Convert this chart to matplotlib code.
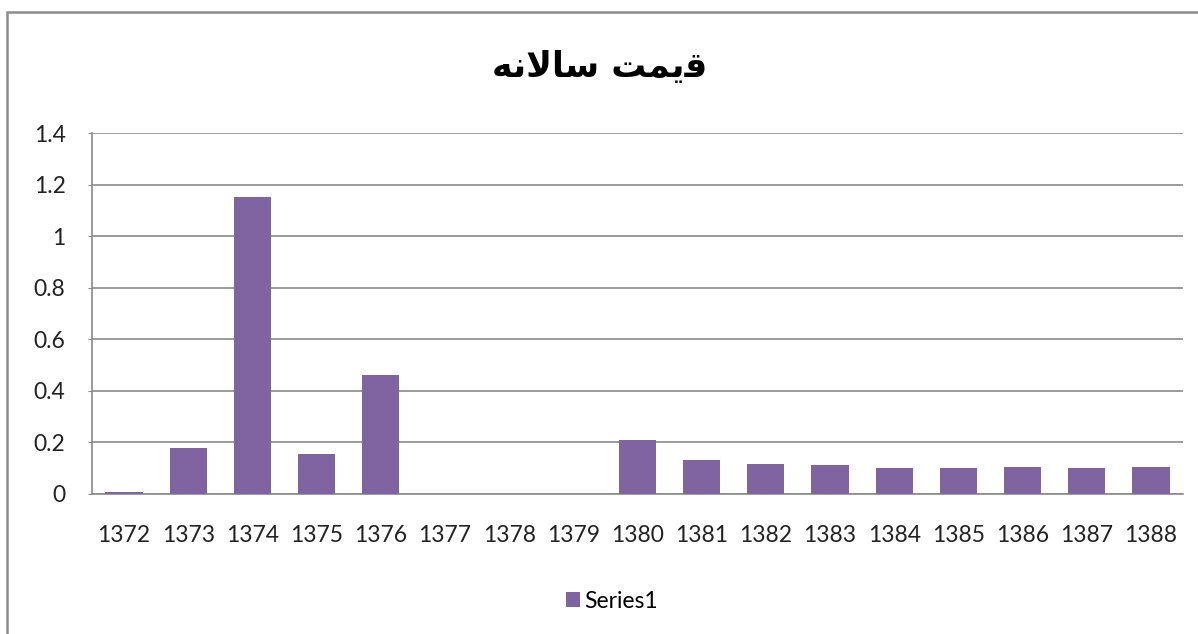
import matplotlib
matplotlib.use("Agg")
import matplotlib.pyplot as plt
from matplotlib.patches import Rectangle
import numpy as np

years = ["1372", "1373", "1374", "1375", "1376", "1377", "1378", "1379", "1380",
         "1381", "1382", "1383", "1384", "1385", "1386", "1387", "1388"]
values = [0.007, 0.177, 1.153, 0.155, 0.46, 0.0, 0.0, 0.0, 0.21,
          0.13, 0.116, 0.111, 0.102, 0.102, 0.106, 0.102, 0.106]
yticks = [0, 0.2, 0.4, 0.6, 0.8, 1.0, 1.2, 1.4]
ytick_labels = ["0", "0.2", "0.4", "0.6", "0.8", "1", "1.2", "1.4"]
series_name = "Series1"
# "قیمت سالانه" in shaped presentation forms, visual order
title_text = "\uFEEA\uFEE7\uFEFB\uFE8E\uFEB3 \uFE96\uFEE4\uFBFE\uFED7"

W, H = 1198, 634
fig = plt.figure(figsize=(W / 100, H / 100), dpi=100)
fig.patch.set_facecolor("white")

# outer chart border
fig.patches.append(Rectangle((7 / W, -0.05), 1.2, 1 - 12 / H + 0.05,
                             transform=fig.transFigure, fill=False,
                             edgecolor="#8c8c8c", linewidth=1.8, zorder=0))

ax = fig.add_axes([92 / W, 1 - 494 / H, (1183 - 92) / W, (494 - 133) / H])
x = np.arange(len(years))
ax.bar(x, values, width=0.58, color="#8064A2", label=series_name, zorder=3)

ax.set_xlim(-0.5, len(years) - 0.5)
ax.set_ylim(0, 1.4)
ax.set_yticks(yticks)
ax.set_yticklabels(ytick_labels)
ax.set_xticks(x)
ax.set_xticklabels(years)

ax.grid(axis="y", color="#8a8a8a", linewidth=1.2, zorder=0)
for s in ["top", "right"]:
    ax.spines[s].set_visible(False)
for s in ["left", "bottom"]:
    ax.spines[s].set_color("#8a8a8a")
    ax.spines[s].set_linewidth(1.2)

ax.tick_params(axis="x", length=0, pad=22, labelsize=16.5, labelcolor="#222222")
ax.tick_params(axis="y", length=3, color="#8a8a8a", pad=16, labelsize=16.5,
               labelcolor="#222222")
for lab in ax.get_xticklabels() + ax.get_yticklabels():
    lab.set_fontfamily("Lato")

fig.text(600 / W, 1 - 67 / H, title_text, ha="center", va="center",
         fontsize=25, fontweight="bold", family=["DejaVu Sans"])

handles, labels = ax.get_legend_handles_labels()
fig.legend(handles, labels, loc="center", bbox_to_anchor=(612 / W, 1 - 601 / H),
           frameon=False, prop={"family": "Lato", "size": 16.5},
           handlelength=0.6, handleheight=0.6, handletextpad=0.2)

fig.savefig("out.png", dpi=100)
